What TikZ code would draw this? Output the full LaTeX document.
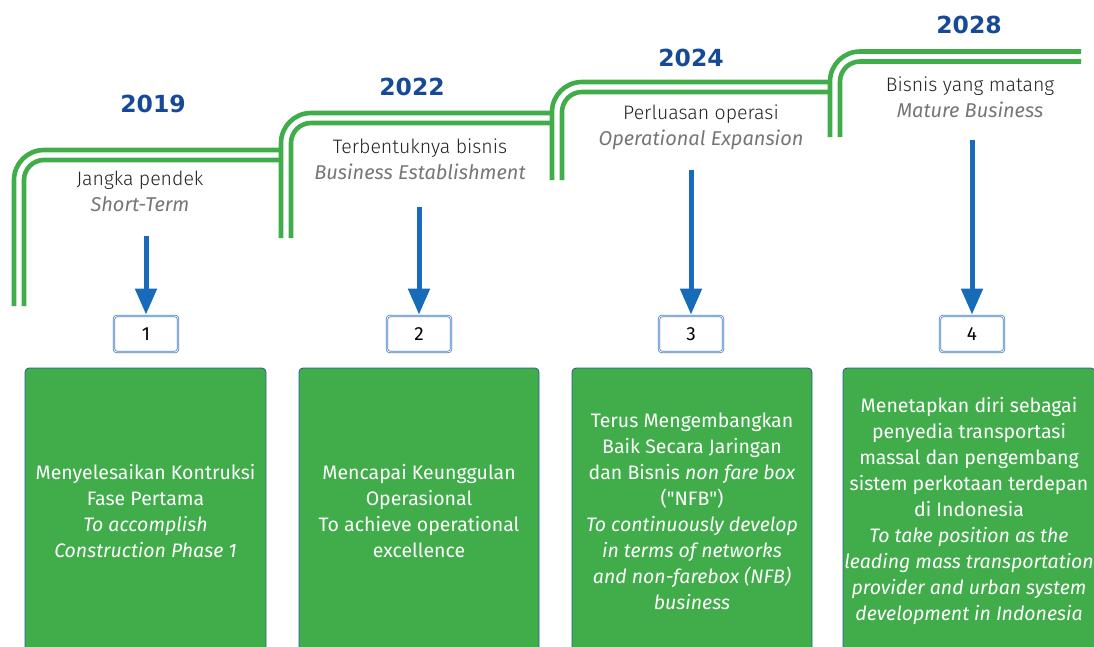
\documentclass[tikz,border=0pt]{standalone}
\usepackage{fontspec}
\setmainfont{Fira Sans}
\newfontfamily\lightfont{Fira Sans}[UprightFont=* Light, ItalicFont=* Light Italic]
\newfontfamily\qfont{Fira Sans}
\newfontfamily\yearfont{DejaVu Sans}
\usetikzlibrary{arrows.meta}
\definecolor{railgreen}{RGB}{64,173,74}
\definecolor{boxgreen}{RGB}{64,173,74}
\definecolor{yearblue}{RGB}{22,74,150}
\definecolor{arrowblue}{RGB}{24,107,184}
\definecolor{numblue}{RGB}{70,130,195}
\definecolor{edgeblue}{RGB}{40,90,160}
\definecolor{subgray}{RGB}{118,118,118}
\definecolor{subblack}{RGB}{35,35,35}
\newcommand{\engsub}[1]{\textcolor{subgray}{\normalfont\itshape\fontsize{20}{26}\selectfont #1}}
\newcommand{\sq}{{\qfont "}}
\begin{document}
\begin{tikzpicture}[x=1pt,y=-1pt,
  rail/.style={draw=railgreen,line width=4.6pt},
  outerrail/.style={rail,rounded corners=30pt},
  innerrail/.style={rail,rounded corners=20pt},
  year/.style={font=\yearfont\bfseries\fontsize{23.5}{28}\selectfont,text=yearblue,inner sep=0pt},
  phase/.style={align=center,font=\lightfont\fontsize{19.5}{26}\selectfont,text=subblack,inner sep=0pt},
  numbox/.style={draw=numblue,double=white,double distance=0.8pt,line width=0.8pt,rounded corners=3pt,
    minimum width=64pt,minimum height=36pt,font=\fontsize{19}{24}\selectfont,inner sep=0pt},
  goalbox/.style={draw=edgeblue,line width=0.8pt,fill=boxgreen,rounded corners=4pt,
    minimum height=286pt,text=white,align=center,inner sep=0pt,font=\fontsize{19.5}{26}\selectfont},
  pointer/.style={draw=arrowblue,line width=5pt,-{Triangle[width=21pt,length=26pt]},shorten >=1pt}
]
\useasboundingbox (0,0) rectangle (1094,646);

% rails
\draw[outerrail] (14,306) |- (281,150);
\draw[innerrail] (24,306) |- (281,160);
\draw[outerrail] (281,238) |- (552,113);
\draw[innerrail] (291,238) |- (552,123);
\draw[outerrail] (552,180) |- (830,82);
\draw[innerrail] (562,180) |- (830,92);
\draw[outerrail] (830,137) |- (1081,51.5);
\draw[innerrail] (840,137) |- (1081,61.5);

% years
\node[year] (y1) at (153,104) {2019};
\node[year] (y2) at (412,87) {2022};
\node[year] (y3) at (691,58) {2024};
\node[year] (y4) at (969,25) {2028};

% phase labels
\node[phase] (p1) at (140,191) {Jangka pendek\\ \engsub{Short-Term}};
\node[phase] (p2) at (420,159) {Terbentuknya bisnis\\ \engsub{Business Establishment}};
\node[phase] (p3) at (701,127) {Perluasan operasi\\ \engsub{Operational Expansion}};
\node[phase] (p4) at (970,97) {Bisnis yang matang\\ \engsub{Mature Business}};

% number boxes
\node[numbox] (n1) at (146,334) {1};
\node[numbox] (n2) at (419,334) {2};
\node[numbox] (n3) at (691,334) {3};
\node[numbox] (n4) at (972,334) {4};

% arrows
\coordinate (a1) at (146,236);
\coordinate (a2) at (419,207);
\coordinate (a3) at (691,170);
\coordinate (a4) at (972,140);
\draw[pointer] (a1) -- (n1.north);
\draw[pointer] (a2) -- (n2.north);
\draw[pointer] (a3) -- (n3.north);
\draw[pointer] (a4) -- (n4.north);

% goal boxes
\node[goalbox,minimum width=241pt] (g1) at (145.5,511) {Menyelesaikan Kontruksi\\ Fase Pertama\\ \textit{To accomplish}\\ \textit{Construction Phase 1}};
\node[goalbox,minimum width=240pt] (g2) at (419,511) {Mencapai Keunggulan\\ Operasional\\ To achieve operational\\ excellence};
\node[goalbox,minimum width=240pt] (g3) at (692,511) {Terus Mengembangkan\\ Baik Secara Jaringan\\ dan Bisnis \textit{non fare box}\\ (\sq NFB\sq)\\ \textit{To continuously develop}\\ \textit{in terms of networks}\\ \textit{and non-farebox (NFB)}\\ \textit{business}};
\node[goalbox,minimum width=252pt] (g4) at (969,511) {Menetapkan diri sebagai\\ penyedia transportasi\\ massal dan pengembang\\ sistem perkotaan terdepan\\ di Indonesia\\ \textit{To take position as the}\\ \textit{leading mass transportation}\\ \textit{provider and urban system}\\ \textit{development in Indonesia}};
\end{tikzpicture}
\end{document}
